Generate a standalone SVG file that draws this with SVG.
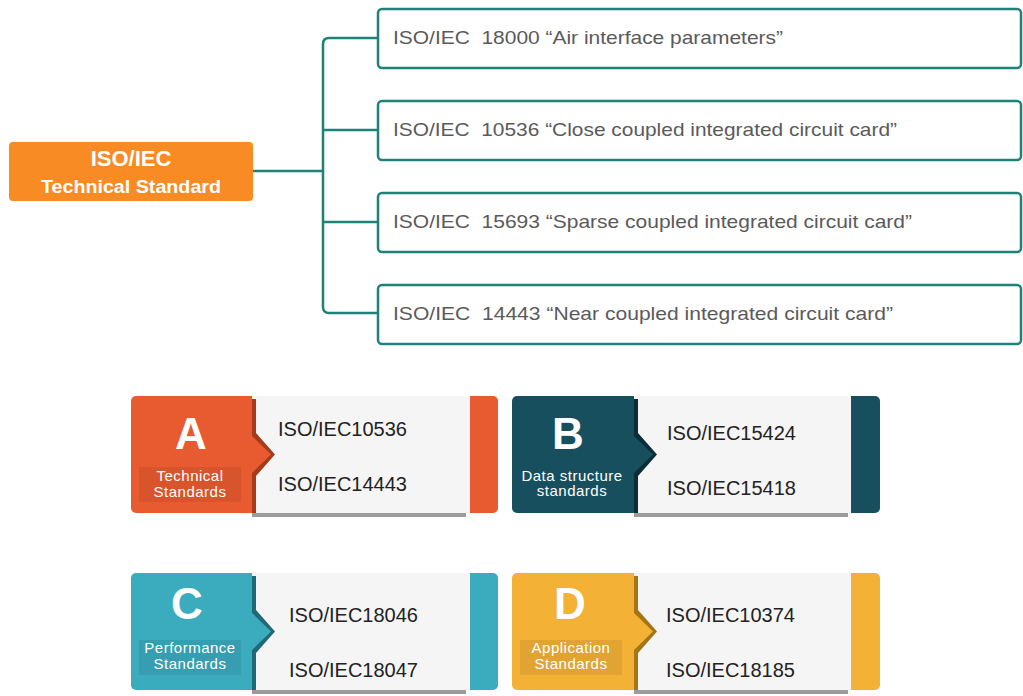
<svg xmlns="http://www.w3.org/2000/svg" width="1023" height="696" viewBox="0 0 1023 696">
  <style>
    .root-box { fill: #F98B25; }
    .root-t1 { font: bold 22px "Liberation Sans", Arial, sans-serif; fill: #fff; text-anchor: middle; }
    .root-t2 { font: bold 19px "Liberation Sans", Arial, sans-serif; fill: #fff; text-anchor: middle; }
    .std-box { fill: #fff; stroke: #1F8279; stroke-width: 2.5; }
    .std-t { font: 19px "Liberation Sans", Arial, sans-serif; fill: #5a5a5a; white-space: pre; }
    .conn { fill: none; stroke: #1F8279; stroke-width: 2.5; }
    .panel { fill: #F5F5F5; }
    .drop { fill: #9c9c9c; }
    .letter { font: bold 44px "Liberation Sans", Arial, sans-serif; fill: #fff; text-anchor: middle; }
    .lbl { font: 15px "Liberation Sans", Arial, sans-serif; fill: #fff; text-anchor: middle; letter-spacing: 0.5px; }
    .code { font: 20px "Liberation Sans", Arial, sans-serif; fill: #222; }
    .tag { fill: #000; opacity: 0.07; }
  </style>

  <!-- reusable card frame pieces (relative to card origin) -->
  <defs>
    <polygon id="notch-shade" points="121,3 125,3 125,37 144,58.5 125,80 125,117 121,117"/>
    <polygon id="notch" points="119,38 140,58.5 119,79"/>
  </defs>

  <!-- root node -->
  <g id="root">
    <rect class="root-box" x="9" y="142" width="244" height="59" rx="4"/>
    <text class="root-t1" x="131" y="166">ISO/IEC</text>
    <text class="root-t2" x="131" y="193" textLength="180" lengthAdjust="spacingAndGlyphs">Technical Standard</text>
  </g>

  <!-- connectors -->
  <g id="connectors">
    <line class="conn" x1="253" y1="171" x2="323" y2="171"/>
    <path class="conn" d="M378,38 H329 Q323,38 323,44 V307 Q323,313 329,313 H378"/>
    <line class="conn" x1="323" y1="130" x2="378" y2="130"/>
    <line class="conn" x1="323" y1="222" x2="378" y2="222"/>
  </g>

  <!-- standard entries -->
  <g id="std-18000">
    <rect class="std-box" x="378" y="9" width="643" height="59" rx="4"/>
    <text class="std-t" x="393" y="44" textLength="390" lengthAdjust="spacingAndGlyphs" xml:space="preserve">ISO/IEC  18000 “Air interface parameters”</text>
  </g>
  <g id="std-10536">
    <rect class="std-box" x="378" y="101" width="643" height="59" rx="4"/>
    <text class="std-t" x="393" y="136" textLength="504" lengthAdjust="spacingAndGlyphs" xml:space="preserve">ISO/IEC  10536 “Close coupled integrated circuit card”</text>
  </g>
  <g id="std-15693">
    <rect class="std-box" x="378" y="193" width="643" height="59" rx="4"/>
    <text class="std-t" x="393" y="228" textLength="519" lengthAdjust="spacingAndGlyphs" xml:space="preserve">ISO/IEC  15693 “Sparse coupled integrated circuit card”</text>
  </g>
  <g id="std-14443">
    <rect class="std-box" x="378" y="285" width="643" height="59" rx="4"/>
    <text class="std-t" x="393" y="320" textLength="500" lengthAdjust="spacingAndGlyphs" xml:space="preserve">ISO/IEC  14443 “Near coupled integrated circuit card”</text>
  </g>

  <!-- category cards -->
  <g id="card-a" transform="translate(131,396)">
    <rect x="0" y="0" width="367" height="117" rx="5" fill="#E85B30"/>
    <rect class="panel" x="121" y="0" width="218" height="117"/>
    <rect class="drop" x="121" y="117" width="214" height="4"/>
    <use href="#notch-shade" fill="#A63A1B"/>
    <use href="#notch" fill="#E85B30"/>
    <text class="letter" x="60" y="53">A</text>
    <rect class="tag" x="8" y="71" width="102" height="35"/>
    <text class="lbl" x="59" y="85">Technical</text>
    <text class="lbl" x="59" y="101">Standards</text>
    <text class="code" x="147" y="40">ISO/IEC10536</text>
    <text class="code" x="147" y="95">ISO/IEC14443</text>
  </g>

  <g id="card-b" transform="translate(512,396)">
    <rect x="0" y="0" width="368" height="117" rx="5" fill="#174F5F"/>
    <rect class="panel" x="122" y="0" width="217" height="117"/>
    <rect class="drop" x="122" y="117" width="214" height="4"/>
    <use href="#notch-shade" fill="#0C2E38" transform="translate(1,0)"/>
    <use href="#notch" fill="#174F5F" transform="translate(1,0)"/>
    <text class="letter" x="56" y="53">B</text>
    <text class="lbl" x="60" y="85">Data structure</text>
    <text class="lbl" x="60" y="100">standards</text>
    <text class="code" x="155" y="44">ISO/IEC15424</text>
    <text class="code" x="155" y="99">ISO/IEC15418</text>
  </g>

  <g id="card-c" transform="translate(131,573)">
    <rect x="0" y="0" width="367" height="117" rx="5" fill="#3BABBE"/>
    <rect class="panel" x="121" y="0" width="218" height="117"/>
    <rect class="drop" x="121" y="117" width="214" height="4"/>
    <use href="#notch-shade" fill="#206A76"/>
    <use href="#notch" fill="#3BABBE"/>
    <text class="letter" x="56" y="46">C</text>
    <rect class="tag" x="8" y="67" width="102" height="35"/>
    <text class="lbl" x="59" y="80">Performance</text>
    <text class="lbl" x="59" y="96">Standards</text>
    <text class="code" x="158" y="49">ISO/IEC18046</text>
    <text class="code" x="158" y="104">ISO/IEC18047</text>
  </g>

  <g id="card-d" transform="translate(512,573)">
    <rect x="0" y="0" width="368" height="117" rx="5" fill="#F3B136"/>
    <rect class="panel" x="122" y="0" width="217" height="117"/>
    <rect class="drop" x="122" y="117" width="214" height="4"/>
    <use href="#notch-shade" fill="#A57414" transform="translate(1,0)"/>
    <use href="#notch" fill="#F3B136" transform="translate(1,0)"/>
    <text class="letter" x="58" y="46">D</text>
    <rect class="tag" x="8" y="67" width="102" height="35"/>
    <text class="lbl" x="59" y="80">Application</text>
    <text class="lbl" x="59" y="96">Standards</text>
    <text class="code" x="154" y="49">ISO/IEC10374</text>
    <text class="code" x="154" y="104">ISO/IEC18185</text>
  </g>
</svg>
